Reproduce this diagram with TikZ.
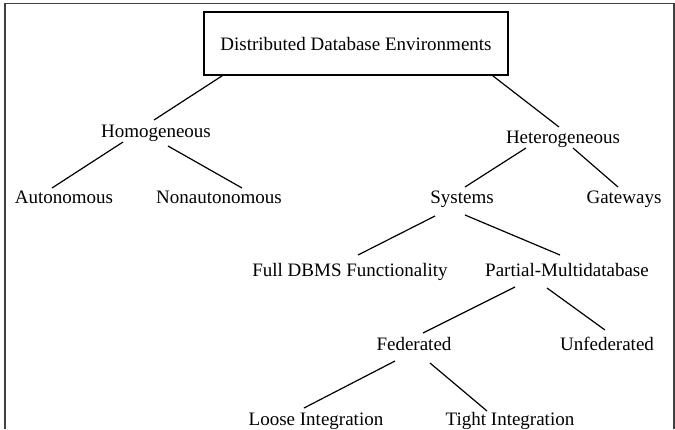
\documentclass[tikz,border=0pt]{standalone}
\usepackage{fontspec}
\setmainfont{Liberation Serif}
\usetikzlibrary{calc}
\begin{document}
\begin{tikzpicture}[x=1pt,y=-1pt,
  label/.style={anchor=base,inner sep=0pt,font=\fontsize{19}{22}\selectfont},
  rootbox/.style={draw,line width=1.5pt,minimum width=304pt,minimum height=63pt,
    inner sep=0pt,font=\fontsize{19}{22}\selectfont},
  link/.style={line width=1.2pt},
  frame/.style={line width=1.5pt,draw=black!75}]
\useasboundingbox (0,0) rectangle (675,429);
% outer frame (open at the bottom)
\draw[frame] (5,429) -- (5,3.5) -- (674,3.5) -- (674,429);

% nodes
\node[rootbox] (root) at (356,43.5) {Distributed Database Environments};
\node[label] (homo)    at (156,137) {Homogeneous};
\node[label] (auto)    at (64,203)  {Autonomous};
\node[label] (nonauto) at (219,203) {Nonautonomous};
\node[label] (hetero)  at (563,143) {Heterogeneous};
\node[label] (sys)     at (462,203) {Systems};
\node[label] (gate)    at (624,203) {Gateways};
\node[label] (full)    at (350,276) {Full DBMS Functionality};
\node[label] (partial) at (567,276) {Partial-Multidatabase};
\node[label] (fed)     at (414,350) {Federated};
\node[label] (unfed)   at (607,350) {Unfederated};
\node[label] (loose)   at (316,425) {Loose Integration};
\node[label] (tight)   at (510,425) {Tight Integration};

% connectors
\draw[link] ($(root.south west)+(19,0)$) -- ($(homo.base)+(-2,-17)$);
\draw[link] ($(root.south east)+(-16,0)$) -- ($(hetero.base)+(-4,-16)$);
\draw[link] ($(homo.base)+(-33,5)$) -- ($(auto.base)+(-12,-15)$);
\draw[link] ($(homo.base)+(12,9)$) -- ($(nonauto.base)+(23,-15)$);
\draw[link] ($(hetero.base)+(-37,5)$) -- ($(sys.base)+(3,-16)$);
\draw[link] ($(hetero.base)+(10,5)$) -- ($(gate.base)+(-6,-16)$);
\draw[link] ($(sys.base)+(-27,13)$) -- ($(full.base)+(8,-21)$);
\draw[link] ($(sys.base)+(3,12)$) -- ($(partial.base)+(-7,-21)$);
\draw[link] ($(partial.base)+(-52,11)$) -- ($(fed.base)+(9,-17)$);
\draw[link] ($(partial.base)+(-20,12)$) -- ($(unfed.base)+(-2,-20)$);
\draw[link] ($(fed.base)+(-19,11)$) -- ($(loose.base)+(-12,-17)$);
\draw[link] ($(fed.base)+(16,13)$) -- ($(tight.base)+(-23,-14)$);
\end{tikzpicture}
\end{document}
